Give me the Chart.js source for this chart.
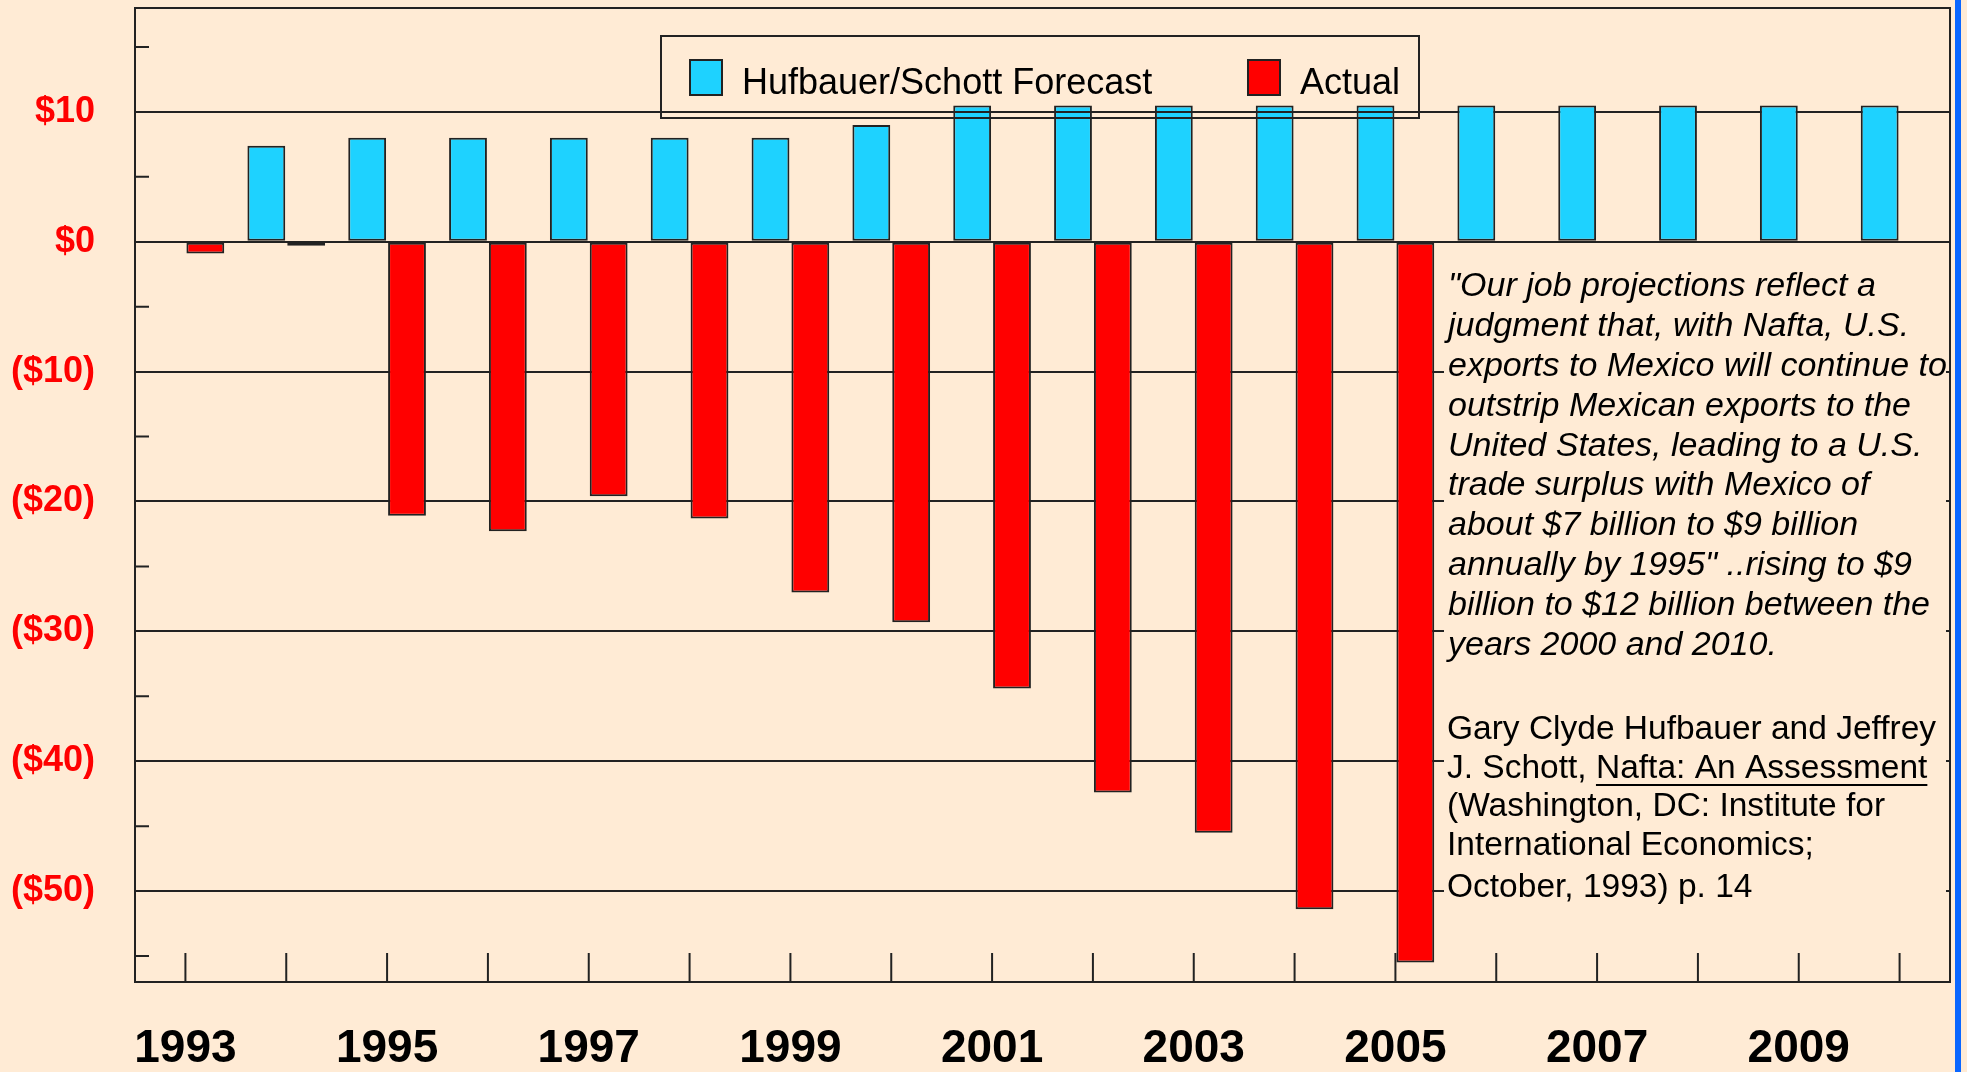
<!DOCTYPE html>
<html>
<head>
<meta charset="utf-8">
<script src="https://cdn.jsdelivr.net/npm/chart.js@4.4.1/dist/chart.umd.min.js"></script>
<style>
  html, body { margin: 0; padding: 0; background: #FFEBD5; overflow: hidden; }
  #wrap { position: relative; width: 1967px; height: 1072px; }
  #edge { position: absolute; left: 1955px; top: 0; width: 6px; height: 1072px; background: #0A66FF; }
</style>
</head>
<body>
<div id="wrap">
  <canvas id="chart" width="1967" height="1072"></canvas>
  <div id="edge"></div>
</div>
<script>
// US trade balance with Mexico, $ billions
const years = ['1993', '1994', '1995', '1996', '1997', '1998', '1999', '2000', '2001',
  '2002', '2003', '2004', '2005', '2006', '2007', '2008', '2009', '2010'];
const forecast = [null, 7.4, 8, 8, 8, 8, 8, 9, 10.5, 10.5, 10.5, 10.5, 10.5, 10.5, 10.5, 10.5, 10.5, 10.5];
const actual = [-0.9, -0.3, -21.1, -22.3, -19.6, -21.3, -27.0, -29.3, -34.4, -42.4, -45.5, -51.4, -55.5,
  null, null, null, null, null];
const yTicks = [-55, -50, -45, -40, -35, -30, -25, -20, -15, -10, -5, 0, 5, 10, 15];

const quoteLines = [
  '"Our job projections reflect a',
  'judgment that, with Nafta, U.S.',
  'exports to Mexico will continue to',
  'outstrip Mexican exports to the',
  'United States, leading to a U.S.',
  'trade surplus with Mexico of',
  'about $7 billion to $9 billion',
  'annually by 1995" ..rising to $9',
  'billion to $12 billion between the',
  'years 2000 and 2010.'
];
const citeLines = [
  'Gary Clyde Hufbauer and Jeffrey',
  'J. Schott, Nafta: An Assessment',
  '(Washington, DC: Institute for',
  'International Economics;',
  'October, 1993) p. 14'
];

const BG = '#FFEBD5';
const LINE = '#222';
const FONT = '"Liberation Sans", Arial, sans-serif';

function money(v) {
  if (v % 10 !== 0) return '';
  if (v === 0) return '$0';
  return v > 0 ? '$' + v : '($' + (-v) + ')';
}

const decor = {
  id: 'decor',
  beforeDatasetsDraw(chart) {
    const { ctx, chartArea: a, scales: { x, y } } = chart;
    ctx.save();
    // quote box hides the grid lines behind it
    ctx.fillStyle = BG;
    ctx.fillRect(1444, 262, 502, 668);

    ctx.strokeStyle = LINE;
    ctx.lineWidth = 2;
    ctx.beginPath();
    yTicks.filter(v => v % 10 !== 0).forEach(v => {
      const py = y.getPixelForValue(v);
      ctx.moveTo(a.left, py);
      ctx.lineTo(a.left + 14, py);
    });
    years.forEach((_, i) => {
      const px = x.getPixelForTick(i);
      ctx.moveTo(px, a.bottom - 29);
      ctx.lineTo(px, a.bottom);
    });
    ctx.stroke();
    ctx.restore();
  },
  afterDatasetsDraw(chart) {
    const { ctx, chartArea: a, scales: { y } } = chart;
    ctx.save();
    ctx.strokeStyle = LINE;
    ctx.lineWidth = 2;
    ctx.strokeRect(a.left, a.top, a.right - a.left, a.bottom - a.top);

    // legend, see-through, drawn over the bars together with its piece of the $10 line
    const g10 = y.getPixelForValue(10);
    ctx.beginPath();
    ctx.moveTo(661, g10);
    ctx.lineTo(1419, g10);
    ctx.stroke();
    ctx.strokeRect(661, 36, 758, 82);
    const spots = [[690, 742], [1248, 1300]];
    ctx.font = '36px ' + FONT;
    ctx.textBaseline = 'middle';
    chart.data.datasets.forEach((ds, i) => {
      const [bx, tx] = spots[i];
      ctx.fillStyle = ds.backgroundColor;
      ctx.fillRect(bx, 60, 32, 35);
      ctx.strokeRect(bx, 60, 32, 35);
      ctx.fillStyle = '#000';
      ctx.fillText(ds.label, tx, 84);
    });

    // quote
    ctx.fillStyle = '#000';
    ctx.font = 'italic 34px ' + FONT;
    quoteLines.forEach((t, i) => ctx.fillText(t, 1448, 287 + 39.8 * i));

    ctx.font = '33.5px ' + FONT;
    const citeY = [730, 768.5, 807, 845.5, 888];
    citeLines.forEach((t, i) => ctx.fillText(t, 1447, citeY[i]));
    const pre = ctx.measureText('J. Schott, ').width;
    const title = ctx.measureText('Nafta: An Assessment').width;
    ctx.strokeStyle = '#000';
    ctx.beginPath();
    ctx.moveTo(1447 + pre, 785);
    ctx.lineTo(1447 + pre + title, 785);
    ctx.stroke();
    ctx.restore();
  }
};

new Chart(document.getElementById('chart').getContext('2d'), {
  type: 'bar',
  data: {
    labels: years,
    datasets: [
      {
        label: 'Hufbauer/Schott Forecast',
        data: forecast,
        backgroundColor: '#1ED2FF',
        borderColor: LINE,
        borderWidth: 2,
        borderSkipped: false,
        categoryPercentage: 0.79,
        barPercentage: 0.95
      },
      {
        label: 'Actual',
        data: actual,
        backgroundColor: '#FF0000',
        borderColor: LINE,
        borderWidth: 2,
        borderSkipped: false,
        categoryPercentage: 0.79,
        barPercentage: 0.95
      }
    ]
  },
  options: {
    responsive: false,
    animation: false,
    devicePixelRatio: 1,
    layout: { padding: { top: 8, right: 17, left: 0, bottom: 0 } },
    plugins: { legend: { display: false }, tooltip: { enabled: false } },
    scales: {
      x: {
        grid: { display: false, drawTicks: false },
        border: { display: false },
        ticks: {
          autoSkip: false,
          maxRotation: 0,
          padding: 40,
          color: '#000',
          font: { family: FONT, size: 46, weight: 'bold' },
          callback: (v, i) => (i % 2 === 0 ? years[i] : '')
        },
        afterFit: s => { s.height = 90; s.paddingLeft = 0; s.paddingRight = 0; }
      },
      y: {
        min: -57,
        max: 18,
        afterBuildTicks: s => { s.ticks = yTicks.map(v => ({ value: v })); },
        grid: {
          color: c => (c.tick && c.tick.value % 10 === 0 ? LINE : 'transparent'),
          lineWidth: 2,
          drawTicks: false
        },
        border: { display: false },
        ticks: {
          padding: 40,
          color: '#FF0000',
          font: { family: FONT, size: 36, weight: 'bold' },
          callback: v => money(v)
        },
        afterFit: s => { s.width = 135; s.paddingTop = 0; s.paddingBottom = 0; }
      }
    }
  },
  plugins: [decor]
});
</script>
</body>
</html>
